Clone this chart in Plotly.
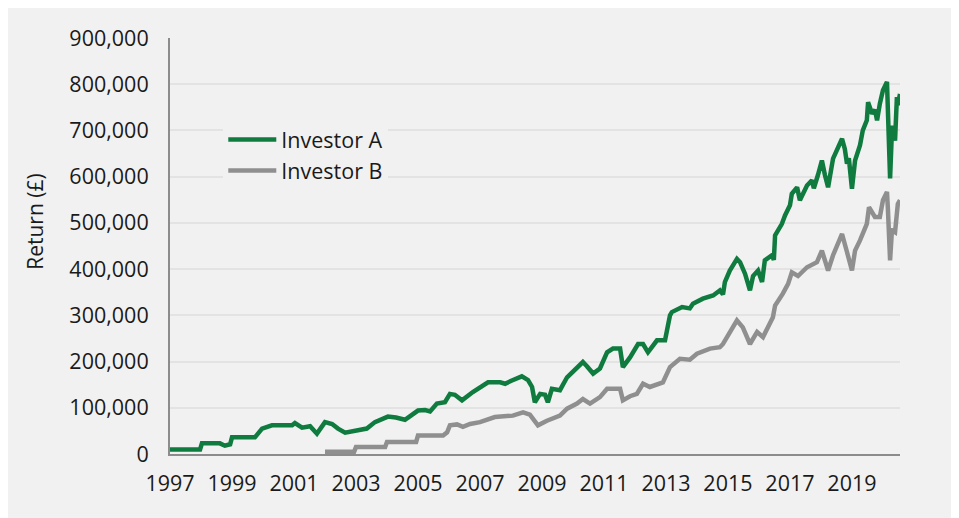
import plotly.graph_objects as go

# decimal years and values (GBP thousands)
years_a = [1997.00, 1997.97, 1998.03, 1998.61, 1998.77, 1998.94, 1999.00, 1999.74, 1999.97,
           2000.29, 2000.94, 2001.03, 2001.26, 2001.52, 2001.74, 2002.00, 2002.23, 2002.42,
           2002.65, 2002.81, 2002.97, 2003.35, 2003.61, 2004.03, 2004.29, 2004.58, 2005.00,
           2005.23, 2005.39, 2005.61, 2005.87, 2006.03, 2006.19, 2006.42, 2006.77, 2007.06,
           2007.26, 2007.65, 2007.81, 2008.03, 2008.35, 2008.55, 2008.68, 2008.77, 2008.94,
           2009.10, 2009.19, 2009.32, 2009.58, 2009.81, 2010.13, 2010.32, 2010.45, 2010.65,
           2010.87, 2011.10, 2011.29, 2011.52, 2011.61, 2011.84, 2012.10, 2012.26, 2012.42,
           2012.71, 2012.97, 2013.13, 2013.19, 2013.52, 2013.77, 2013.87, 2014.19, 2014.52,
           2014.74, 2014.84, 2014.90, 2015.06, 2015.29, 2015.39, 2015.55, 2015.71, 2015.81,
           2015.97, 2016.10, 2016.19, 2016.42, 2016.48, 2016.52, 2016.74, 2016.84, 2017.00,
           2017.06, 2017.23, 2017.32, 2017.55, 2017.71, 2017.77, 2017.90, 2018.03, 2018.13,
           2018.23, 2018.39, 2018.55, 2018.68, 2018.77, 2018.84, 2018.90, 2019.00, 2019.10,
           2019.26, 2019.35, 2019.48, 2019.52, 2019.65, 2019.74, 2019.81, 2019.90, 2020.00,
           2020.13, 2020.16, 2020.23, 2020.29, 2020.32, 2020.39, 2020.45, 2020.48, 2020.55]
investor_a = [10, 10, 23, 23, 18, 21, 36, 36, 55,
              62, 62, 67, 57, 60, 44, 69, 65, 55,
              46, 48, 52, 55, 69, 81, 79, 74, 94,
              95, 92, 109, 112, 130, 128, 116, 134, 145,
              155, 155, 152, 159, 168, 160, 145, 112, 130,
              128, 112, 141, 138, 166, 188, 199, 190, 174,
              185, 220, 228, 228, 188, 209, 238, 238, 220,
              246, 246, 300, 307, 318, 315, 325, 336, 343,
              354, 345, 372, 397, 422, 415, 390, 354, 385,
              397, 372, 419, 430, 420, 473, 498, 516, 538,
              563, 577, 549, 581, 592, 575, 603, 635, 603,
              577, 639, 660, 682, 660, 628, 640, 574, 635,
              668, 700, 722, 761, 736, 745, 722, 758, 787,
              805, 736, 596, 700, 710, 678, 772, 755, 779]

years_b = [2002.00, 2002.48, 2002.94, 2003.00, 2003.94, 2004.00, 2004.94, 2005.00, 2005.81,
           2005.94, 2006.03, 2006.26, 2006.45, 2006.68, 2007.00, 2007.48, 2008.06, 2008.39,
           2008.61, 2008.87, 2009.16, 2009.58, 2009.81, 2010.13, 2010.32, 2010.55, 2010.87,
           2011.10, 2011.52, 2011.61, 2011.84, 2012.06, 2012.26, 2012.48, 2012.90, 2013.13,
           2013.45, 2013.77, 2014.00, 2014.42, 2014.74, 2014.84, 2015.00, 2015.29, 2015.48,
           2015.71, 2015.94, 2016.13, 2016.45, 2016.52, 2016.77, 2016.94, 2017.06, 2017.26,
           2017.55, 2017.87, 2018.03, 2018.23, 2018.39, 2018.68, 2018.84, 2019.00, 2019.10,
           2019.26, 2019.48, 2019.55, 2019.74, 2019.90, 2020.00, 2020.13, 2020.16, 2020.23,
           2020.29, 2020.39, 2020.48, 2020.55]
investor_b = [5, 5, 5, 15, 15, 26, 26, 40, 40,
              47, 62, 64, 59, 65, 69, 80, 83, 90,
              85, 62, 72, 83, 98, 109, 119, 109, 123,
              141, 141, 116, 125, 130, 152, 145, 155, 188,
              206, 204, 217, 228, 231, 238, 256, 289, 274,
              238, 264, 253, 296, 321, 347, 368, 393, 385,
              404, 415, 440, 397, 430, 476, 437, 397, 440,
              462, 498, 534, 513, 513, 549, 567, 530, 419,
              484, 480, 541, 549]

tick_years = list(range(1997, 2020, 2))

GREEN = "#0f7b3f"
GREY = "#8f8f8f"
BG = "#f1f1f1"
FONT = "Open Sans"

fig = go.Figure()
fig.add_trace(go.Scatter(x=years_a, y=[v * 1000 for v in investor_a], mode="lines",
                         name="Investor A", line=dict(color=GREEN, width=4.5)))
fig.add_trace(go.Scatter(x=years_b, y=[v * 1000 for v in investor_b], mode="lines",
                         name="Investor B", line=dict(color=GREY, width=4.5)))

# y title sits a little above the middle of the axis, so place it by hand
fig.add_annotation(text="Return (£)", textangle=-90, showarrow=False,
                   xref="paper", yref="paper", x=-0.185, y=0.558,
                   xanchor="center", yanchor="middle",
                   font=dict(size=21, family=FONT, color="#1a1a1a"))

fig.update_layout(
    width=944, height=510,
    paper_bgcolor=BG, plot_bgcolor=BG,
    margin=dict(l=162, r=52, t=30, b=64),
    font=dict(family=FONT, size=21.5, color="#1a1a1a"),
    showlegend=True,
    legend=dict(x=0.073, y=0.805, xanchor="left", yanchor="top",
                bgcolor=BG, font=dict(size=21.5), itemwidth=48,
                tracegroupgap=0),
    xaxis=dict(range=[1997, 2020.55], tickvals=tick_years,
               ticktext=[str(y) for y in tick_years],
               showgrid=False, zeroline=False,
               showline=True, linecolor="#8c8c8c", linewidth=2,
               ticks="outside", ticklen=9, tickcolor="rgba(0,0,0,0)"),
    yaxis=dict(range=[0, 900000], dtick=100000, tickformat=",",
               showgrid=True, gridcolor="#e3e3e3", gridwidth=2,
               zeroline=False, showline=True, linecolor="#8c8c8c", linewidth=2,
               ticks="outside", ticklen=15, tickcolor="rgba(0,0,0,0)"),
)

fig.write_html("out.html")
